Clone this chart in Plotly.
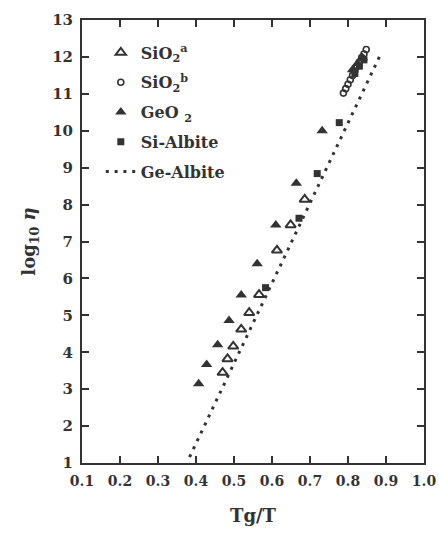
import plotly.graph_objects as go

# SiO2 (a) - open triangles
sio2a_x = [0.470, 0.483, 0.498, 0.519, 0.540, 0.566, 0.613, 0.649, 0.686]
sio2a_y = [3.45, 3.82, 4.16, 4.62, 5.07, 5.56, 6.76, 7.45, 8.14]

# SiO2 (b) - open circles
sio2b_x = [0.788, 0.794, 0.800, 0.806, 0.812, 0.818, 0.824, 0.830, 0.836, 0.842, 0.848]
sio2b_y = [11.02, 11.14, 11.26, 11.38, 11.50, 11.62, 11.74, 11.86, 11.98, 12.08, 12.20]

# GeO2 - filled triangles
geo2_x = [0.407, 0.428, 0.457, 0.487, 0.519, 0.561, 0.610, 0.664, 0.732, 0.812, 0.825, 0.838]
geo2_y = [3.15, 3.67, 4.20, 4.86, 5.55, 6.40, 7.45, 8.58, 10.00, 11.65, 11.82, 11.98]

# Si-Albite - filled squares
sialb_x = [0.583, 0.671, 0.719, 0.777, 0.818, 0.830, 0.842]
sialb_y = [5.75, 7.63, 8.84, 10.22, 11.55, 11.75, 11.92]

# Ge-Albite - dotted line end points
gealb_x = [0.383, 0.888]
gealb_y = [1.16, 12.12]

x_ticks = [0.1, 0.2, 0.3, 0.4, 0.5, 0.6, 0.7, 0.8, 0.9, 1.0]
x_ticklabels = ["0.1", "0.2", "0.3", "0.4", "0.5", "0.6", "0.7", "0.8", "0.9", "1.0"]
y_ticks = list(range(1, 14))

ink = "#333333"
font_family = "DejaVu Serif"

fig = go.Figure()

fig.add_trace(go.Scatter(
    x=sio2a_x, y=sio2a_y, mode="markers", name="SiO<sub>2</sub><sup>a</sup>", legendgroup="a",
    marker=dict(symbol="triangle-up-open", size=9, color=ink, line=dict(width=2, color=ink)),
))
fig.add_trace(go.Scatter(
    x=sio2b_x, y=sio2b_y, mode="markers", name="SiO<sub>2</sub><sup>b</sup>", legendgroup="b",
    marker=dict(symbol="circle-open", size=6, color=ink, line=dict(width=1.6, color=ink)),
))
fig.add_trace(go.Scatter(
    x=geo2_x, y=geo2_y, mode="markers", name="GeO <sub>2</sub>", legendgroup="c",
    marker=dict(symbol="triangle-up", size=10, color=ink),
))
fig.add_trace(go.Scatter(
    x=sialb_x, y=sialb_y, mode="markers", name="Si-Albite", legendgroup="d",
    marker=dict(symbol="square", size=7, color=ink),
))
fig.add_trace(go.Scatter(
    x=gealb_x, y=gealb_y, mode="lines", name="Ge-Albite", legendgroup="e",
    line=dict(color=ink, width=3, dash="3px,5.8px"),
))

fig.update_layout(
    width=439, height=533,
    margin=dict(l=82, r=15, t=20, b=70, autoexpand=False),
    paper_bgcolor="white", plot_bgcolor="white",
    font=dict(family=font_family, size=15, color=ink, weight="bold"),
    showlegend=True,
    legend=dict(
        x=0.055, y=0.965, xanchor="left", yanchor="top",
        bgcolor="rgba(0,0,0,0)", borderwidth=0,
        font=dict(family=font_family, size=16, color=ink, weight="bold"),
        itemwidth=30, tracegroupgap=6,
    ),
    xaxis=dict(
        range=[0.1, 1.0], tickvals=x_ticks, ticktext=x_ticklabels, automargin=False,
        showline=True, linecolor=ink, linewidth=2, mirror="allticks",
        ticks="inside", ticklen=7, tickwidth=2, tickcolor=ink,
        showgrid=False, zeroline=False, ticklabelstandoff=4,
        tickfont=dict(family=font_family, size=14, color=ink, weight="bold"),
        title=dict(text="Tg/T", font=dict(family=font_family, size=18, color=ink, weight="bold"), standoff=22),
    ),
    yaxis=dict(
        range=[1, 13], tickvals=y_ticks, automargin=False,
        showline=True, linecolor=ink, linewidth=2, mirror="allticks",
        ticks="inside", ticklen=7, tickwidth=2, tickcolor=ink,
        showgrid=False, zeroline=False, ticklabelstandoff=4,
        tickfont=dict(family=font_family, size=15, color=ink, weight="bold"),
        title=dict(text="log<sub>10</sub> <i>η</i>", font=dict(family=font_family, size=18, color=ink, weight="bold"), standoff=12),
    ),
)

fig.write_html("out.html", config={"displayModeBar": False},
               post_script="document.body.style.margin='0';")
